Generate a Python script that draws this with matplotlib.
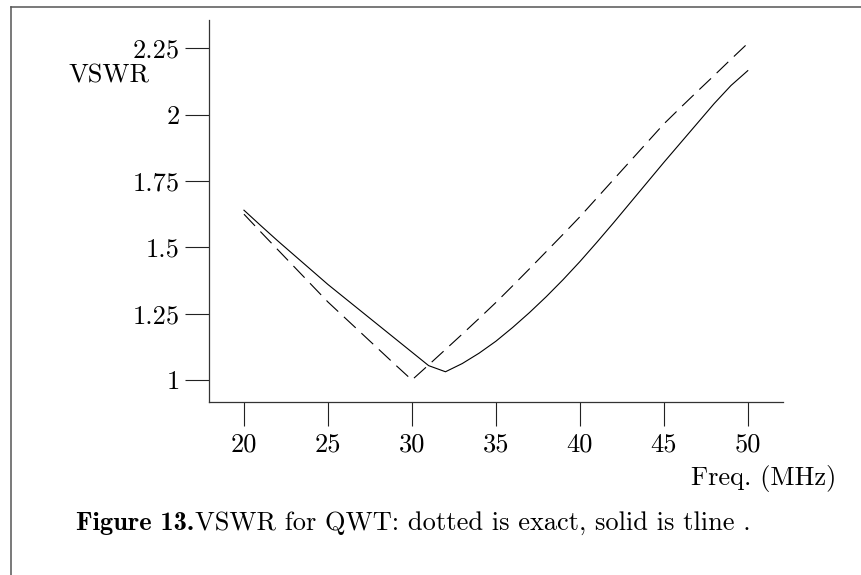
import matplotlib
matplotlib.use("Agg")
import matplotlib.pyplot as plt
from matplotlib.lines import Line2D

# data
freq = [20, 21, 22, 23, 24, 25, 26, 27, 28, 29, 30, 31, 32, 33, 34, 35,
        36, 37, 38, 39, 40, 41, 42, 43, 44, 45, 46, 47, 48, 49, 50]
# solid: tline model
vswr_tline = [1.640, 1.582, 1.525, 1.470, 1.415, 1.360, 1.309, 1.258, 1.207, 1.156, 1.105,
              1.054, 1.031, 1.062, 1.101, 1.146, 1.198, 1.254, 1.314, 1.378, 1.446,
              1.518, 1.592, 1.668, 1.744, 1.820, 1.894, 1.968, 2.042, 2.110, 2.166]
# dashed: exact
vswr_exact = [1.625, 1.558, 1.492, 1.426, 1.360, 1.294, 1.235, 1.176, 1.117, 1.058, 1.000,
              1.057, 1.115, 1.173, 1.232, 1.292, 1.355, 1.419, 1.484, 1.549, 1.615,
              1.685, 1.755, 1.825, 1.895, 1.965, 2.027, 2.088, 2.148, 2.209, 2.269]

xticks = [20, 25, 30, 35, 40, 45, 50]
yticks = [1, 1.25, 1.5, 1.75, 2, 2.25]
ylabels = ["1", "1.25", "1.5", "1.75", "2", "2.25"]

plt.rcParams['font.family'] = ['cmr10']
plt.rcParams['axes.formatter.use_mathtext'] = True
fs = 19

W, H = 862, 575
fig = plt.figure(figsize=(W / 100, H / 100), dpi=100)
ax = fig.add_axes([208.7 / W, 1 - 402 / H, (782.7 - 208.7) / W, (402 - 20) / H])

ax.plot(freq, vswr_tline, color='black', lw=0.8)
ax.plot(freq, vswr_exact, color='black', lw=0.8, dashes=(14.5, 7))

ax.set_xlim(17.90, 52.08)
ax.set_ylim(0.917, 2.357)
ax.set_xticks(xticks)
ax.set_xticklabels([str(v) for v in xticks])
ax.set_yticks(yticks)
ax.set_yticklabels(ylabels)
ax.tick_params(axis='both', direction='out', length=17.3, width=0.8,
               color='#222222', labelsize=fs)
ax.tick_params(axis='y', pad=3.6)
ax.tick_params(axis='x', pad=5)

for s in ['top', 'right']:
    ax.spines[s].set_visible(False)
for s in ['left', 'bottom']:
    ax.spines[s].set_linewidth(0.9)
    ax.spines[s].set_color('#333333')

# axis labels placed like the original
fig.text(68 / W, 1 - 76 / H, "VSWR", fontsize=fs, ha='left', va='center')
fig.text(836 / W, 1 - 478 / H, "Freq. (MHz)", fontsize=fs, ha='right', va='center')

# caption
t1 = fig.text(76 / W, 1 - 530 / H, "Figure 13.", fontsize=fs, family='cmb10',
              ha='left', va='baseline')
fig.canvas.draw()
bb = t1.get_window_extent()
fig.text(bb.x1 / W + 1 / W, 1 - 530 / H, "VSWR for QWT: dotted is exact, solid is tline .",
         fontsize=fs, ha='left', va='baseline')

# page frame (top and left edge)
fig.add_artist(Line2D([11.5 / W, 1.0], [1 - 7.3 / H, 1 - 7.3 / H],
                      transform=fig.transFigure, color='#555555', lw=1.1))
fig.add_artist(Line2D([11.5 / W, 11.5 / W], [0, 1 - 7.3 / H],
                      transform=fig.transFigure, color='#555555', lw=1.1))

fig.savefig("out.png", dpi=100)
